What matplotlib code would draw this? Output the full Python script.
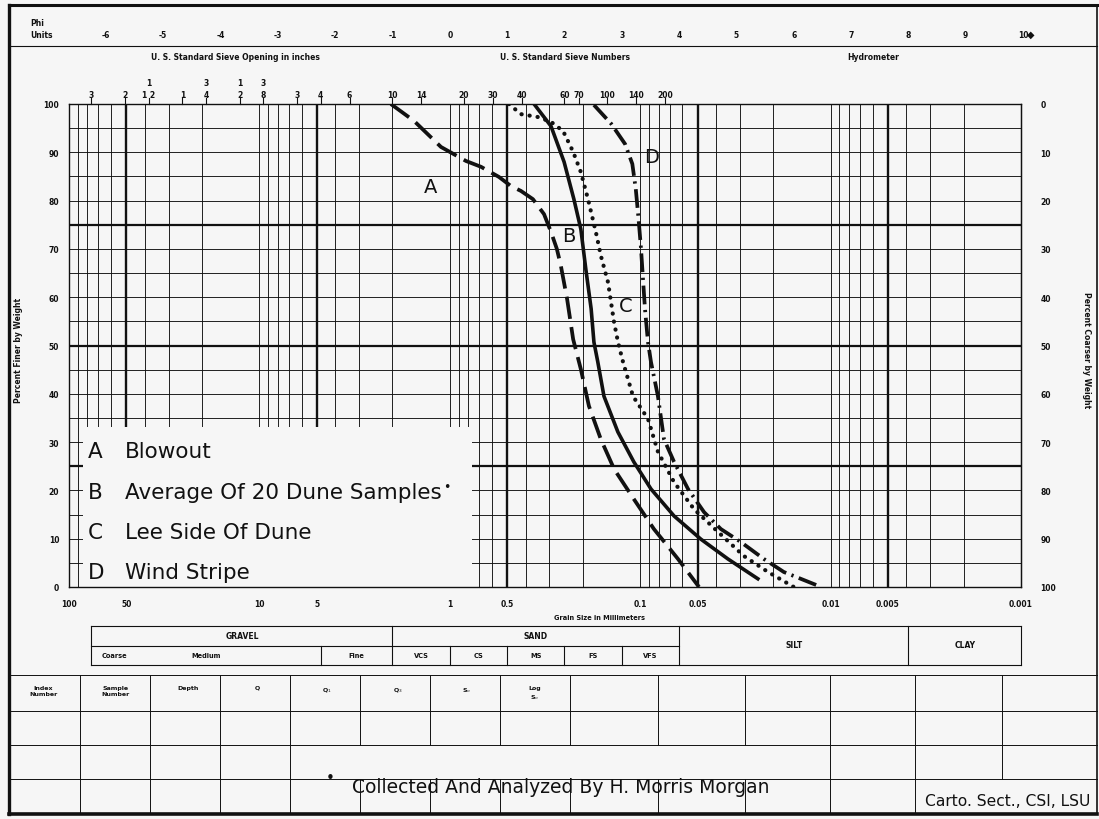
import matplotlib
matplotlib.use("Agg")
import matplotlib.pyplot as plt
from matplotlib.transforms import blended_transform_factory
from matplotlib.patches import Rectangle
from matplotlib.ticker import NullLocator
import numpy as np

plt.rcParams['font.family'] = ['DejaVu Sans']

# ---------------- data (grain size in mm, percent finer) ----------------
a_mm = [2.04, 1.542, 1.112, 0.822, 0.686, 0.552, 0.477, 0.423, 0.366, 0.320, 0.294,
        0.274, 0.261, 0.242, 0.225, 0.205, 0.186, 0.161, 0.137, 0.108, 0.0847, 0.0633, 0.0491]
a_pct = [100, 96.5, 91.1, 88.2, 87.0, 84.9, 83.0, 82.0, 80.3, 77.2, 73.5,
         70.0, 66.5, 59.6, 51.3, 45.1, 37.5, 30.6, 24.4, 18.2, 12.0, 5.8, 0]
b_mm = [0.361, 0.294, 0.251, 0.223, 0.205, 0.193, 0.181, 0.175, 0.167, 0.155, 0.131,
        0.108, 0.0878, 0.0664, 0.048, 0.0346, 0.0241]
b_pct = [100, 95.4, 88.0, 80.3, 74.1, 65.8, 57.6, 50.7, 46.6, 39.5, 32.1,
         25.9, 20.3, 14.7, 9.9, 5.8, 1.7]
c_mm = [0.489, 0.423, 0.344, 0.294, 0.254, 0.225, 0.205, 0.188, 0.171, 0.1607, 0.1476,
        0.1373, 0.1308, 0.1231, 0.1091, 0.091, 0.0807, 0.0664, 0.0521, 0.039, 0.0285, 0.0213, 0.0156]
c_pct = [100, 97.9, 97.3, 96.3, 94.4, 90.1, 85.9, 80.3, 73.5, 68.5, 63.1,
         54.9, 50.7, 46.6, 39.5, 34.8, 28.0, 21.7, 16.1, 11.4, 6.4, 3.1, 0]
d_mm = [0.1750, 0.1420, 0.1200, 0.1100, 0.1055, 0.1020, 0.0990, 0.0967, 0.0944, 0.091, 0.0878,
        0.0807, 0.075, 0.0664, 0.0561, 0.0462, 0.0377, 0.0296, 0.0224, 0.0176, 0.0112]
d_pct = [99.8, 95.9, 91.7, 87.6, 82.4, 76.2, 70.0, 63.8, 57.6, 50.7, 46.6,
         39.5, 30.6, 25.9, 20.3, 15.5, 12.0, 9.3, 5.8, 3.1, 0]

curve_letters = ['A', 'B', 'C', 'D']
curve_names = ['Blowout', 'Average Of 20 Dune Samples', 'Lee Side Of Dune', 'Wind Stripe']
curve_label_mm = [1.256, 0.2366, 0.1188, 0.0870]
curve_label_pct = [83.0, 72.7, 58.2, 89.2]

x_ticks_mm = [100, 50, 10, 5, 1, 0.5, 0.1, 0.05, 0.01, 0.005, 0.001]
x_tick_labels = ['100', '50', '10', '5', '1', '0.5', '0.1', '0.05', '0.01', '0.005', '0.001']
y_ticks = list(range(0, 101, 10))

phi_units = list(range(-6, 11))

sieve_in_mm = [76.2, 50.8, 38.1, 25.4, 19.05, 12.7, 9.525]
sieve_in_bottom = ['3', '2', '1 2', '1', '4', '2', '8']
sieve_in_top = ['', '', '1', '', '3', '1', '3']
sieve_no_mm = [6.35, 4.76, 3.36, 2.00, 1.41, 0.841, 0.595, 0.420, 0.250, 0.210, 0.149, 0.105, 0.074]
sieve_no_labels = ['3', '4', '6', '10', '14', '20', '30', '40', '60', '70', '100', '140', '200']

class_edges_mm = [76.2, 4.76, 2.0, 1.0, 0.5, 0.25, 0.125, 0.0625, 0.0039, 0.001]
class_major = ['GRAVEL', 'SAND']
class_wide = ['SILT', 'CLAY']
class_minor = ['Fine', 'VCS', 'CS', 'MS', 'FS', 'VFS']
gravel_sub = ['Coarse', 'Medium']
gravel_sub_mm = [58.0, 19.0]

table_headers = ['Index\nNumber', 'Sample\nNumber', 'Depth', 'Q', 'Q$_1$', 'Q$_3$',
                 'S$_o$', 'Log\nS$_o$']

# ---------------- layout ----------------
W, H = 1099, 820
bg = '#f6f6f6'
ink = '#111111'
fig = plt.figure(figsize=(W / 100, H / 100), dpi=100)
fig.patch.set_facecolor(bg)

L, R, T, B = 69, 1021, 105, 588
ax = fig.add_axes([L / W, 1 - B / H, (R - L) / W, (B - T) / H])
ax.set_xscale('log')
ax.set_xlim(100, 0.001)
ax.set_ylim(0, 100)
ax.set_facecolor(bg)
for s in ax.spines.values():
    s.set_color(ink)
    s.set_linewidth(1.0)

# grid of the printed form
for e in range(-3, 2):
    for m in range(1, 10):
        g = m * 10.0 ** e
        ax.axvline(g, color=ink, lw=1.7 if m == 5 else 0.65, zorder=1)
for p in range(5, 100, 5):
    ax.axhline(p, color=ink, lw=1.6 if p % 25 == 0 else 0.65, zorder=1)

# blank legend area
ax.add_patch(Rectangle((0.76, 0), 84.4 - 0.76, 33.1, facecolor=bg, edgecolor='none', zorder=2))

# curves
ax.plot(a_mm, a_pct, color=ink, lw=2.7, dashes=(6, 2.2), zorder=5)
ax.plot(b_mm, b_pct, color=ink, lw=2.6, zorder=5)
ax.plot(c_mm, c_pct, color=ink, lw=3.0, linestyle=(0, (0.05, 1.9)),
        dash_capstyle='round', zorder=5)
ax.plot(d_mm, d_pct, color=ink, lw=2.7, dashes=(5, 1.5, 0.6, 1.5), zorder=5)

for lt, xm, yp in zip(curve_letters, curve_label_mm, curve_label_pct):
    ax.text(xm, yp, lt, fontsize=14, ha='center', va='center', color=ink, zorder=6)

# ticks
ax.set_xticks(x_ticks_mm)
ax.set_xticklabels(x_tick_labels)
ax.xaxis.set_minor_locator(NullLocator())
ax.tick_params(axis='x', length=0, pad=9, labelsize=5.5, colors=ink)
ax.set_yticks(y_ticks)
ax.tick_params(axis='y', length=0, pad=7, labelsize=5.5, colors=ink)
for lab in ax.get_xticklabels() + ax.get_yticklabels():
    lab.set_fontweight('bold')
ax2 = ax.secondary_yaxis('right', functions=(lambda p: 100 - p, lambda p: 100 - p))
ax2.set_yticks(y_ticks)
ax2.tick_params(length=0, pad=14, labelsize=5.5, colors=ink)
ax2.spines['right'].set_color(ink)
for lab in ax2.get_yticklabels():
    lab.set_fontweight('bold')

# ---------------- overlay in pixel coordinates ----------------
ov = fig.add_axes([0, 0, 1, 1], zorder=10)
ov.set_xlim(0, W)
ov.set_ylim(H, 0)
ov.axis('off')
ov.patch.set_visible(False)
bx = blended_transform_factory(ax.transData, ov.transData)

small = dict(fontsize=5.5, fontweight='bold', color=ink)

# outer frame and separators
ov.plot([9, 9], [6, 815], color=ink, lw=2.4)
ov.plot([9, 1097], [6, 6], color=ink, lw=2.2)
ov.plot([9, 1097], [815, 815], color=ink, lw=2.6)
ov.plot([1097, 1097], [6, 815], color=ink, lw=1.2)
ov.plot([9, 1097], [47, 47], color=ink, lw=0.8)

# phi units
ov.text(30, 24, 'Phi', ha='left', va='center', **small)
ov.text(30, 35, 'Units', ha='left', va='center', **small)
for ph in phi_units:
    ov.text(2.0 ** (-ph), 35, str(ph), ha='center', va='center', transform=bx, **small)
ov.text(1031, 35, '\u25c6', ha='center', va='center', fontsize=7, color=ink)

ov.text(235, 58, 'U. S. Standard Sieve Opening in inches', ha='center', va='center', **small)
ov.text(565, 58, 'U. S. Standard Sieve Numbers', ha='center', va='center', **small)
ov.text(873, 58, 'Hydrometer', ha='center', va='center', **small)

for mm, bt, tp in zip(sieve_in_mm, sieve_in_bottom, sieve_in_top):
    ov.text(mm, 95, bt, ha='center', va='center', transform=bx, **small)
    if tp:
        ov.text(mm, 83, tp, ha='center', va='center', transform=bx, **small)
    ov.plot([mm, mm], [99, 105], color=ink, lw=0.8, transform=bx, clip_on=False)
for mm, lab in zip(sieve_no_mm, sieve_no_labels):
    ov.text(mm, 95, lab, ha='center', va='center', transform=bx, **small)
    ov.plot([mm, mm], [99, 105], color=ink, lw=0.8, transform=bx, clip_on=False)

# axis titles
ov.text(19, 350, 'Percent Finer by Weight', rotation=90, ha='center', va='center', **small)
ov.text(1087, 350, 'Percent Coarser by Weight', rotation=270, ha='center', va='center', **small)
ov.text(600, 618, 'Grain Size in Millimeters', ha='center', va='center', fontsize=4.8,
        fontweight='bold', color=ink)

# legend
leg_y = [452, 493, 533, 573]
name_texts = []
for lt, nm, yy in zip(curve_letters, curve_names, leg_y):
    ov.text(88, yy, lt, ha='left', va='center', fontsize=15.5, color=ink)
    name_texts.append(ov.text(125, yy, nm, ha='left', va='center', fontsize=15.5, color=ink))
ov.annotate('\u2022', xy=(1, 0.75), xycoords=name_texts[1], xytext=(4, 0),
            textcoords='offset points', ha='center', va='center', fontsize=9, color=ink)

# classification table
yt, ym, yb = 627, 647, 666
e = class_edges_mm
ov.plot([e[0], e[-1]], [yt, yt], color=ink, lw=0.8, transform=bx, clip_on=False)
ov.plot([e[0], e[-1]], [yb, yb], color=ink, lw=0.8, transform=bx, clip_on=False)
ov.plot([e[0], e[7]], [ym, ym], color=ink, lw=0.8, transform=bx, clip_on=False)
for i, mm in enumerate(e):
    top = yt if i in (0, 2, 7, 8, 9) else ym
    ov.plot([mm, mm], [top, yb], color=ink, lw=0.8, transform=bx, clip_on=False)


def gmean(a, b):
    return float(np.sqrt(a * b))


ov.text(gmean(e[0], e[2]), 637, class_major[0], ha='center', va='center', transform=bx, **small)
ov.text(gmean(e[2], e[7]), 637, class_major[1], ha='center', va='center', transform=bx, **small)
ov.text(gmean(e[7], e[8]), 646, class_wide[0], ha='center', va='center', transform=bx, **small)
ov.text(gmean(e[8], e[9]), 646, class_wide[1], ha='center', va='center', transform=bx, **small)
for lab, mm in zip(gravel_sub, gravel_sub_mm):
    ov.text(mm, 656, lab, ha='center', va='center', transform=bx, fontsize=4.8,
            fontweight='bold', color=ink)
for i, lab in enumerate(class_minor):
    ov.text(gmean(e[i + 1], e[i + 2]), 656, lab, ha='center', va='center', transform=bx,
            fontsize=4.8, fontweight='bold', color=ink)

# bottom data table
rows_y = [676, 712, 746, 780]
col_x = [80, 150, 220, 290, 360, 430, 500, 570, 658, 745, 830, 915, 1002]
for yy in rows_y:
    ov.plot([9, 1097], [yy, yy], color=ink, lw=0.7)
for cx in col_x:
    ov.plot([cx, cx], [676, 746], color=ink, lw=0.7)
for cx in [80, 150, 220, 290, 830, 915, 1002]:
    ov.plot([cx, cx], [746, 780], color=ink, lw=0.7)
for cx in col_x[:-1]:
    ov.plot([cx, cx], [780, 815], color=ink, lw=0.7)
head_x = [43, 116, 188, 257, 327, 398, 467, 535]
for hx, hd in zip(head_x, table_headers):
    ov.text(hx, 686, hd, ha='center', va='top', fontsize=4.5, fontweight='bold',
            color=ink, linespacing=1.3)

ov.text(330, 779, '\u2022', ha='center', va='center', fontsize=11, color=ink)
ov.text(352, 788, 'Collected And Analyzed By H. Morris Morgan', ha='left', va='center',
        fontsize=13.5, color=ink)
ov.text(1090, 802, 'Carto. Sect., CSI, LSU', ha='right', va='center', fontsize=11.2, color=ink)

fig.savefig('out.png', dpi=100, facecolor=bg)
